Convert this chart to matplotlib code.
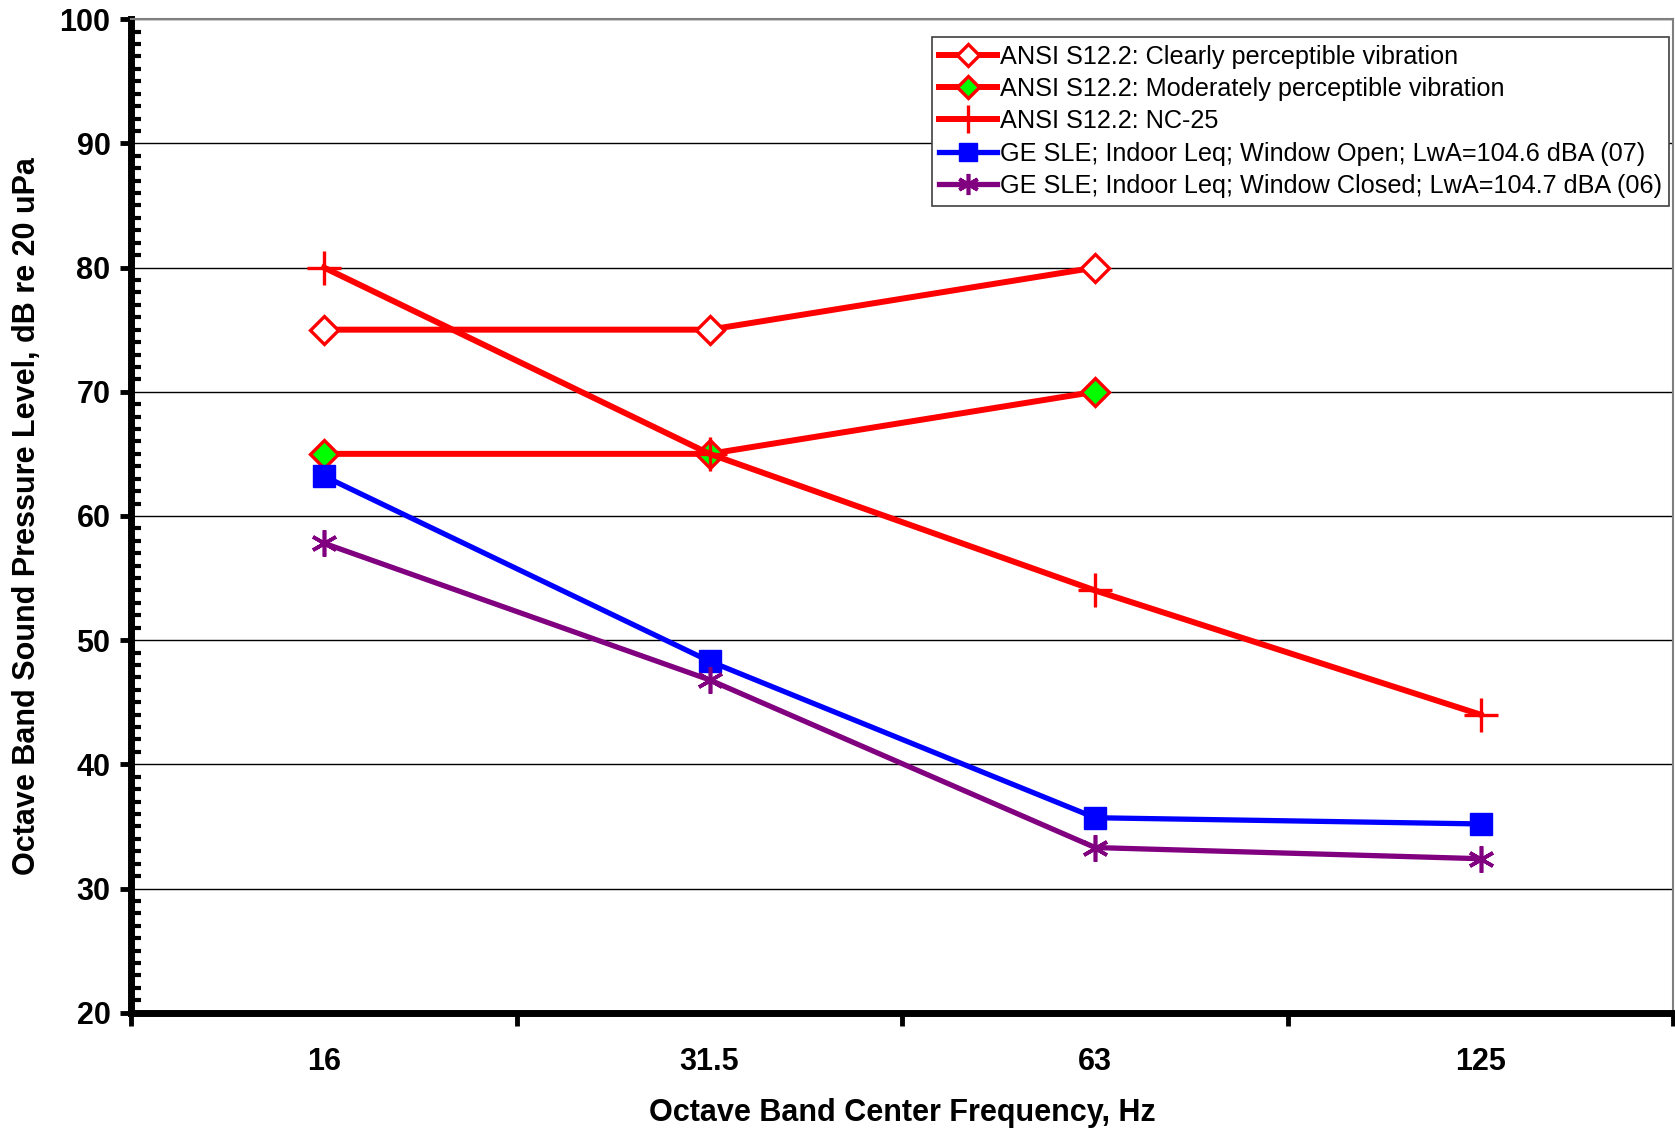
import matplotlib
matplotlib.use("Agg")
import matplotlib.pyplot as plt
from matplotlib.ticker import MultipleLocator, FixedLocator, NullFormatter

plt.rcParams['font.family'] = ['Liberation Sans', 'DejaVu Sans']

# octave band data
bands = ["16", "31.5", "63", "125"]
clearly = [75, 75, 80]
moderate = [65, 65, 70]
nc25 = [80, 65, 54, 44]
win_open = [63.2, 48.3, 35.7, 35.2]
win_closed = [57.8, 46.8, 33.3, 32.4]

labels = ["ANSI S12.2: Clearly perceptible vibration",
          "ANSI S12.2: Moderately perceptible vibration",
          "ANSI S12.2: NC-25",
          "GE SLE; Indoor Leq; Window Open; LwA=104.6 dBA (07)",
          "GE SLE; Indoor Leq; Window Closed; LwA=104.7 dBA (06)"]

fig = plt.figure(figsize=(16.75, 11.29), dpi=100)
ax = fig.add_axes([0.0784, 0.103, 0.9206, 0.880])

x = [i + 0.5 for i in range(len(bands))]

ax.plot(x[:3], clearly, color='#FF0000', lw=4.3, marker='D', ms=14,
        mfc='white', mec='#FF0000', mew=2.4, label=labels[0], zorder=3)
ax.plot(x[:3], moderate, color='#FF0000', lw=4.3, marker='D', ms=14,
        mfc='#00FF00', mec='#FF0000', mew=2.4, label=labels[1], zorder=3)
ax.plot(x, nc25, color='#FF0000', lw=4.3, marker='+', ms=25,
        mew=2.4, label=labels[2], zorder=4)
ax.plot(x, win_open, color='#0000FF', lw=3.8, marker='s', ms=16,
        label=labels[3], zorder=3)
ax.plot(x, win_closed, color='#800080', lw=3.8, marker=(6, 2, 0), ms=19,
        mew=2.6, label=labels[4], zorder=3)

ax.set_xlim(0, 4)
ax.set_ylim(20, 100)

# y axis
ax.yaxis.set_major_locator(MultipleLocator(10))
ax.yaxis.set_minor_locator(MultipleLocator(1))
ax.tick_params(axis='y', which='major', direction='out', length=8, width=3.5,
               labelsize=22, pad=7)
ax.tick_params(axis='y', which='minor', direction='in', length=7, width=3)
ax.grid(axis='y', which='major', color='black', lw=1.0, zorder=0)

# x axis: ticks between bands, labels at band centres
ax.xaxis.set_major_locator(FixedLocator([0, 1, 2, 3, 4]))
ax.xaxis.set_major_formatter(NullFormatter())
ax.xaxis.set_minor_locator(FixedLocator(x))
ax.set_xticklabels(bands, minor=True)
ax.tick_params(axis='x', which='major', direction='out', length=9, width=3.5)
ax.tick_params(axis='x', which='minor', length=0, labelsize=22, pad=25)

for lab in ax.get_xticklabels(minor=True) + ax.get_yticklabels():
    lab.set_fontweight('bold')

for s in ['left', 'bottom']:
    ax.spines[s].set_linewidth(5)
    ax.spines[s].set_color('black')
for s in ['top', 'right']:
    ax.spines[s].set_linewidth(1.5)
    ax.spines[s].set_color('#808080')

ax.set_xlabel("Octave Band Center Frequency, Hz", fontsize=22, fontweight='bold')
ax.set_ylabel("Octave Band Sound Pressure Level, dB re 20 uPa", fontsize=22,
              fontweight='bold')
ax.xaxis.set_label_coords(0.5, -0.086)
ax.yaxis.set_label_coords(-0.058, 0.5)

leg = ax.legend(loc='upper right', bbox_to_anchor=(0.9975, 0.982), fontsize=18.2,
                frameon=True, fancybox=False, handlelength=2.3, handletextpad=0.1,
                borderpad=0.3, labelspacing=0.33, borderaxespad=0, markerscale=0.8)
leg.get_frame().set_edgecolor('#404040')
leg.get_frame().set_linewidth(1.2)
leg.get_frame().set_alpha(1)

fig.savefig("out.png", dpi=100, facecolor='white')
